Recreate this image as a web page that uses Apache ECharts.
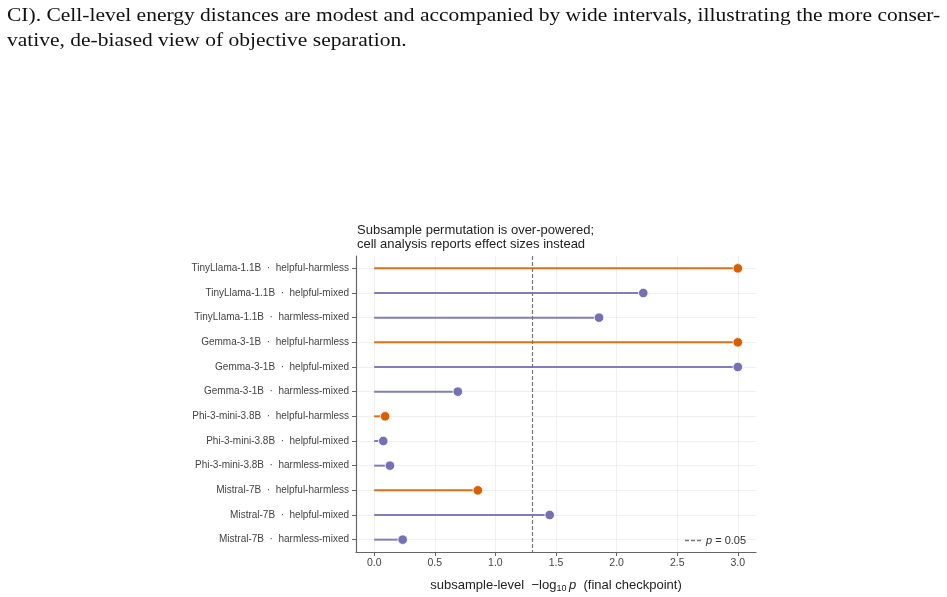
<!DOCTYPE html>
<html>
<head>
<meta charset="utf-8">
<script src="https://cdn.jsdelivr.net/npm/echarts@6/dist/echarts.min.js"></script>
<style>
html,body{margin:0;padding:0;background:#fff;}
#c{width:947px;height:597px;}
</style>
</head>
<body>
<div id="c"></div>
<script>
// ---- data ----
const models = ['TinyLlama-1.1B', 'Gemma-3-1B', 'Phi-3-mini-3.8B', 'Mistral-7B'];
const pairs = ['helpful-harmless', 'helpful-mixed', 'harmless-mixed'];
const negLog10P = [3.0, 2.22, 1.855, 3.0, 3.0, 0.69, 0.09, 0.075, 0.13, 0.855, 1.448, 0.235];
const xTicks = [0, 0.5, 1.0, 1.5, 2.0, 2.5, 3.0];
const threshold = 1.301;
const thresholdLabel = 'p = 0.05';
const pairColors = { 'helpful-harmless': '#D95F02', 'helpful-mixed': '#7570B3', 'harmless-mixed': '#7570B3' };
const paraLines = [
  'CI). Cell-level energy distances are modest and accompanied by wide intervals, illustrating the more conser-',
  'vative, de-biased view of objective separation.'
];
const titleText = 'Subsample permutation is over-powered;\ncell analysis reports effect sizes instead';

// ---- build ----
const rows = [];
models.forEach(m => pairs.forEach(p => rows.push({ model: m, pair: p })));
const categories = rows.map(r => r.model + '  \u00b7  ' + r.pair);
const stemData = rows.map((r, i) => ({ value: negLog10P[i], itemStyle: { color: pairColors[r.pair] } }));
const dotData = rows.map((r, i) => ({ value: [negLog10P[i], categories[i]], itemStyle: { color: pairColors[r.pair] } }));

const FONT = 'Liberation Sans, Arial, sans-serif';
const chart = echarts.init(document.getElementById('c'), null, { renderer: 'canvas' });
chart.setOption({
  animation: false,
  backgroundColor: '#ffffff',
  title: {
    text: titleText,
    left: 352, top: 218,
    textStyle: { fontFamily: FONT, fontSize: 13, fontWeight: 'normal', color: '#222', lineHeight: 14.5 }
  },
  graphic: paraLines.map((t, i) => ({
    type: 'text', x: 7, y: 7 + i * 25, scaleX: 1.132,
    style: { text: t, font: '19px "Liberation Serif", "Times New Roman", serif', fill: '#111' }
  })),
  legend: {
    data: [{ name: thresholdLabel, icon: 'path://M0,0 h4 v1.4 h-4 z M6,0 h4 v1.4 h-4 z M12,0 h4 v1.4 h-4 z' }],
    left: 680, top: 530,
    itemWidth: 16, itemHeight: 1.4, itemGap: 4,
    formatter: () => '{i|p} = 0.05',
    textStyle: { fontFamily: FONT, fontSize: 11, color: '#333', rich: { i: { fontStyle: 'italic', fontFamily: FONT, fontSize: 11, color: '#333' } } }
  },
  grid: { left: 356, right: 191, top: 256, bottom: 45, containLabel: false },
  xAxis: {
    type: 'value', min: -0.15, max: 3.15,
    axisLine: { show: true, onZero: false, lineStyle: { color: '#666', width: 1.2 } },
    axisTick: { show: true, length: 4, customValues: xTicks, lineStyle: { color: '#666' } },
    axisLabel: { customValues: xTicks, formatter: v => v.toFixed(1), fontFamily: FONT, fontSize: 10.5, color: '#444', margin: 6 },
    splitLine: { show: true, lineStyle: { color: '#ececec', width: 0.8 } },
    name: 'subsample-level  \u2212log{sub|10}\u2009{i|p}  (final checkpoint)',
    nameLocation: 'middle', nameGap: 26,
    nameTextStyle: {
      fontFamily: FONT, fontSize: 13, color: '#222',
      rich: {
        sub: { fontSize: 9, fontFamily: FONT, color: '#222', verticalAlign: 'bottom', padding: [6, 0, 0, 0] },
        i: { fontStyle: 'italic', fontFamily: FONT, fontSize: 13, color: '#222' }
      }
    }
  },
  yAxis: {
    type: 'category', data: categories, inverse: true,
    axisLine: { show: true, onZero: false, lineStyle: { color: '#666', width: 1.2 } },
    axisTick: { show: true, alignWithLabel: true, length: 4, lineStyle: { color: '#666' } },
    axisLabel: { fontFamily: FONT, fontSize: 10, color: '#444', margin: 7 },
    splitLine: { show: false }
  },
  series: [
    {
      name: 'grid', type: 'line', data: [], silent: true, z: 0,
      markLine: {
        silent: true, z: 0, symbol: ['none', 'none'], label: { show: false },
        lineStyle: { color: '#ececec', width: 0.8, type: 'solid' },
        data: categories.map(c => ({ yAxis: c }))
      }
    },
    {
      name: thresholdLabel, type: 'line', data: [], symbol: 'none', z: 1,
      lineStyle: { color: '#777', width: 1.2, type: [4, 2] },
      itemStyle: { color: '#777' },
      markLine: {
        silent: true, z: 1, symbol: ['none', 'none'], label: { show: false },
        lineStyle: { color: '#777', width: 1.2, type: [4, 2] },
        data: [{ xAxis: threshold }]
      }
    },
    {
      name: 'stems', type: 'bar', data: stemData, barWidth: 2, z: 2,
      itemStyle: { opacity: 0.9 }
    },
    {
      name: 'dots', type: 'scatter', data: dotData, symbolSize: 9.5, z: 4,
      itemStyle: { borderColor: '#fff', borderWidth: 0.8, opacity: 1 }
    }
  ]
});
</script>
</body>
</html>
